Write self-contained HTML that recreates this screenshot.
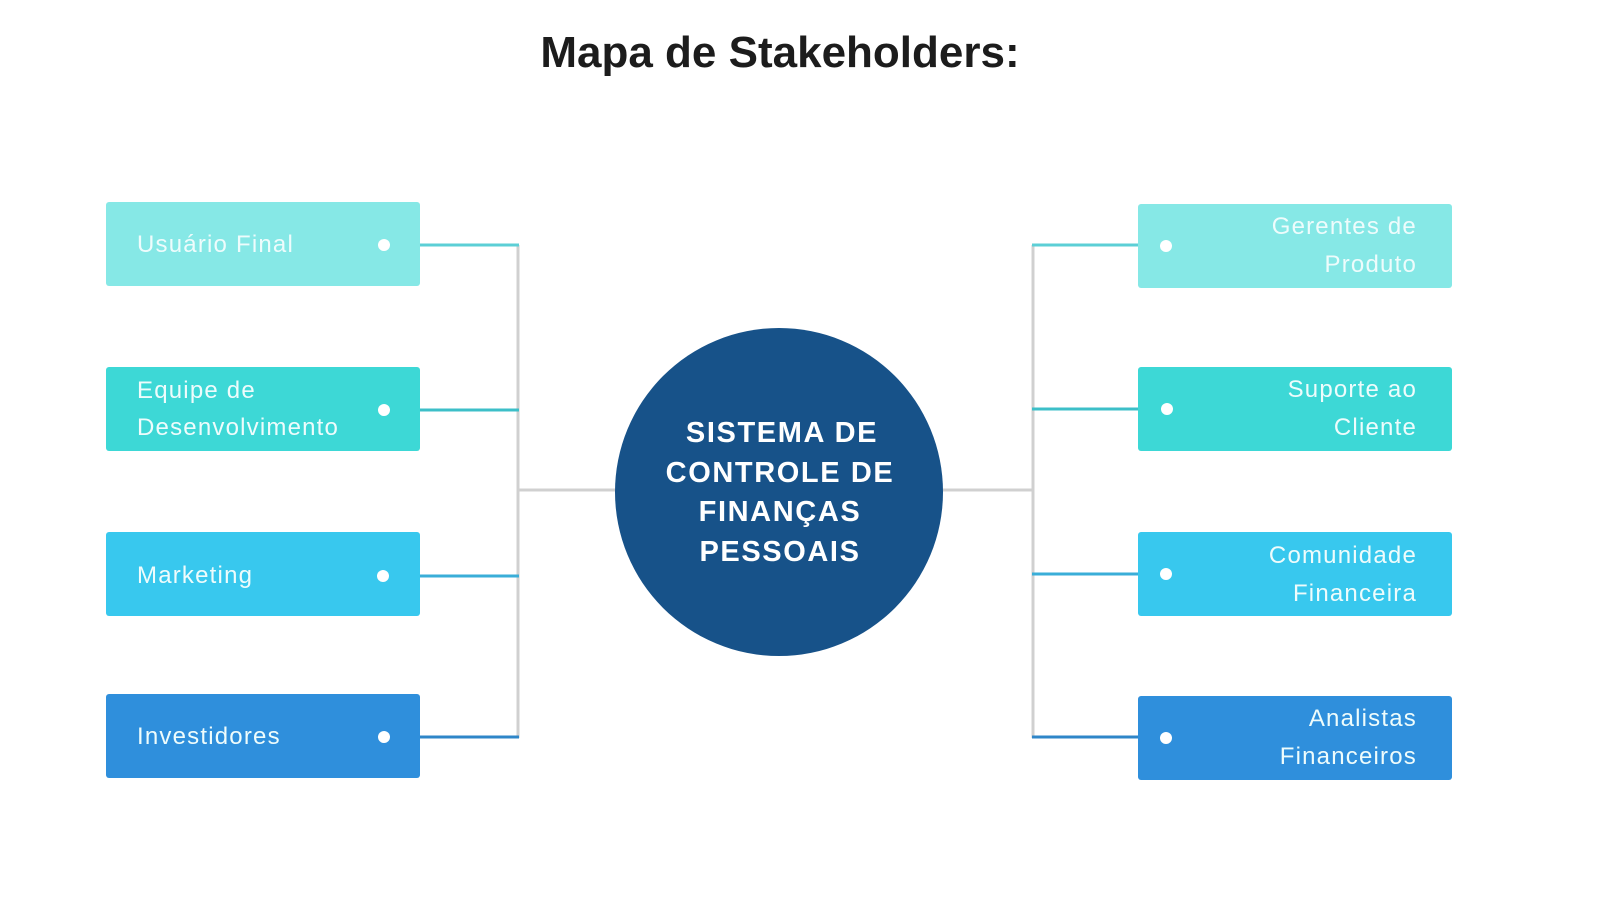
<!DOCTYPE html>
<html><head><meta charset="utf-8"><style>
html,body{margin:0;padding:0;background:#fff;}
svg{display:block;}
text{font-family:"Liberation Sans",sans-serif;}
</style></head><body>
<svg width="1600" height="922" viewBox="0 0 1600 922" xmlns="http://www.w3.org/2000/svg">
<text x="780" y="67" text-anchor="middle" font-size="44" font-weight="bold" fill="#1c1c1c">Mapa de Stakeholders:</text>
<line x1="518" y1="245" x2="518" y2="738" stroke="#d0d0d0" stroke-width="3"/>
<line x1="1033" y1="245" x2="1033" y2="738" stroke="#d0d0d0" stroke-width="3"/>
<line x1="518" y1="490" x2="616" y2="490" stroke="#d0d0d0" stroke-width="3"/>
<line x1="942" y1="490" x2="1033" y2="490" stroke="#d0d0d0" stroke-width="3"/>
<line x1="420" y1="245" x2="519" y2="245" stroke="#5ccfd6" stroke-width="3"/>
<line x1="420" y1="410" x2="519" y2="410" stroke="#3cbfc8" stroke-width="3"/>
<line x1="420" y1="576" x2="519" y2="576" stroke="#3aaed8" stroke-width="3"/>
<line x1="420" y1="737" x2="519" y2="737" stroke="#2f86c8" stroke-width="3"/>
<line x1="1032" y1="245" x2="1138" y2="245" stroke="#5ccfd6" stroke-width="3"/>
<line x1="1032" y1="409" x2="1138" y2="409" stroke="#3cbfc8" stroke-width="3"/>
<line x1="1032" y1="574" x2="1138" y2="574" stroke="#3aaed8" stroke-width="3"/>
<line x1="1032" y1="737" x2="1138" y2="737" stroke="#2f86c8" stroke-width="3"/>
<rect x="106" y="202" width="314" height="84" rx="3" fill="#86e8e6"/>
<rect x="106" y="367" width="314" height="84" rx="3" fill="#3dd8d6"/>
<rect x="106" y="532" width="314" height="84" rx="3" fill="#38c8ee"/>
<rect x="106" y="694" width="314" height="84" rx="3" fill="#2f8fdc"/>
<circle cx="384" cy="245" r="6" fill="#fff"/>
<circle cx="384" cy="410" r="6" fill="#fff"/>
<circle cx="383" cy="576" r="6" fill="#fff"/>
<circle cx="384" cy="737" r="6" fill="#fff"/>
<g font-size="24" fill="#eefcfc" letter-spacing="1.2">
<text x="137" y="252">Usuário Final</text>
<text x="137" y="398">Equipe de</text>
<text x="137" y="435">Desenvolvimento</text>
<text x="137" y="583">Marketing</text>
<text x="137" y="744">Investidores</text>
</g>
<rect x="1138" y="204" width="314" height="84" rx="3" fill="#86e8e6"/>
<rect x="1138" y="367" width="314" height="84" rx="3" fill="#3dd8d6"/>
<rect x="1138" y="532" width="314" height="84" rx="3" fill="#38c8ee"/>
<rect x="1138" y="696" width="314" height="84" rx="3" fill="#2f8fdc"/>
<circle cx="1166" cy="246" r="6" fill="#fff"/>
<circle cx="1167" cy="409" r="6" fill="#fff"/>
<circle cx="1166" cy="574" r="6" fill="#fff"/>
<circle cx="1166" cy="738" r="6" fill="#fff"/>
<g font-size="24" fill="#eefcfc" letter-spacing="1.2" text-anchor="end">
<text x="1417" y="234">Gerentes de</text>
<text x="1417" y="272">Produto</text>
<text x="1417" y="397">Suporte ao</text>
<text x="1417" y="435">Cliente</text>
<text x="1417" y="563">Comunidade</text>
<text x="1417" y="601">Financeira</text>
<text x="1417" y="726">Analistas</text>
<text x="1417" y="764">Financeiros</text>
</g>
<circle cx="779" cy="492" r="164" fill="#175289"/>
<g font-size="29" font-weight="bold" fill="#fff" text-anchor="middle" letter-spacing="1.6">
<text x="782" y="442">SISTEMA DE</text>
<text x="780" y="482">CONTROLE DE</text>
<text x="780" y="521">FINANÇAS</text>
<text x="780" y="561">PESSOAIS</text>
</g>
</svg>
</body></html>
